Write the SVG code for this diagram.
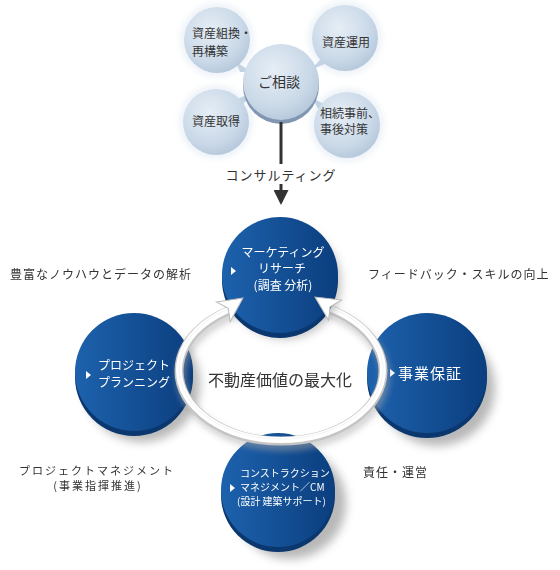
<svg xmlns="http://www.w3.org/2000/svg" width="560" height="570" viewBox="0 0 560 570">
<defs>
<radialGradient id="bub" cx="0.4" cy="0.35" r="0.7">
<stop offset="0" stop-color="#e6eef6"/><stop offset="0.7" stop-color="#c9d8e7"/><stop offset="1" stop-color="#b3c6da"/>
</radialGradient>
<linearGradient id="blue" x1="0" y1="0" x2="1" y2="0">
<stop offset="0" stop-color="#1d62ad"/><stop offset="1" stop-color="#0b3e7e"/>
</linearGradient>
<filter id="sh" x="-30%" y="-30%" width="160%" height="160%"><feGaussianBlur stdDeviation="5"/></filter>
<filter id="glow" x="-30%" y="-30%" width="160%" height="160%"><feGaussianBlur stdDeviation="3"/></filter>
<marker id="ah" viewBox="0 0 10 10" refX="8" refY="5" markerWidth="5" markerHeight="5" orient="auto"><path d="M0,0 L10,5 L0,10 z" fill="#333"/></marker>
<style>
.t{font-family:"Noto Sans CJK JP","Noto Sans",sans-serif;fill:#333}
.b{font-size:12px}
.w{font-family:"Noto Sans CJK JP","Noto Sans",sans-serif;fill:#fff;font-size:12px}
.w10{font-size:10px}
.w15{font-size:15px;letter-spacing:1px}
.side{font-size:12px;letter-spacing:1px}
.side2{font-size:11px;letter-spacing:2px}
.tri{fill:#fff}
</style>
</defs>
<rect width="560" height="570" fill="#fff"/>

<g id="consult">
<circle cx="217" cy="40" r="37" fill="#eef3f8" filter="url(#glow)"/>
<circle cx="345" cy="38" r="37" fill="#eef3f8" filter="url(#glow)"/>
<circle cx="216" cy="122" r="37" fill="#eef3f8" filter="url(#glow)"/>
<circle cx="347" cy="125" r="37" fill="#eef3f8" filter="url(#glow)"/>
<g id="n-kumikae">
<polygon points="236,62 252,72 240,72" fill="#c3d3e3"/>
<circle cx="217" cy="40" r="33" fill="url(#bub)"/>
<text class="t b" x="192" y="38">資産組換・</text>
<text class="t b" x="192" y="56">再構築</text>
</g>
<g id="n-unyou">
<polygon points="322,58 310,70 325,64" fill="#c3d3e3"/>
<circle cx="345" cy="38" r="33" fill="url(#bub)"/>
<text class="t b" x="346" y="47" text-anchor="middle">資産運用</text>
</g>
<g id="n-shutoku">
<polygon points="236,100 252,92 242,106" fill="#c3d3e3"/>
<circle cx="216" cy="122" r="33" fill="url(#bub)"/>
<text class="t b" x="216" y="126" text-anchor="middle">資産取得</text>
</g>
<g id="n-souzoku">
<polygon points="324,104 312,98 320,112" fill="#c3d3e3"/>
<circle cx="347" cy="125" r="33" fill="url(#bub)"/>
<text class="t b" x="320" y="118">相続事前、</text>
<text class="t b" x="320" y="134">事後対策</text>
</g>
<g id="n-soudan">
<circle cx="281" cy="86" r="38" fill="#8197b1"/>
<circle cx="281" cy="82" r="38" fill="url(#bub)"/>
<text class="t" x="279" y="87" font-size="14" text-anchor="middle">ご相談</text>
</g>
</g>

<g id="connectors">
<line x1="281" y1="122" x2="281" y2="164" stroke="#333" stroke-width="3"/>
<text class="t" x="281" y="180" font-size="13" letter-spacing="1" text-anchor="middle">コンサルティング</text>
<line x1="281" y1="184" x2="281" y2="202" stroke="#333" stroke-width="3" marker-end="url(#ah)"/>
</g>

<g id="shadows" fill="#9a9a9a" opacity="0.7">
<circle cx="142" cy="384" r="58" filter="url(#sh)"/>
<circle cx="437" cy="388" r="58" filter="url(#sh)"/>
<circle cx="290" cy="503" r="56" filter="url(#sh)"/>
</g>

<g id="n-planning">
<circle cx="134" cy="377" r="59" fill="#0a376e"/>
<circle cx="134" cy="372" r="59" fill="url(#blue)"/>
<polygon class="tri" points="86,371 86,379 91,375"/>
<text class="w" x="98" y="370">プロジェクト</text>
<text class="w" x="98" y="387">プランニング</text>
</g>
<g id="n-hoshou">
<circle cx="427" cy="378" r="60" fill="#0a376e"/>
<circle cx="427" cy="373" r="60" fill="url(#blue)"/>
<polygon class="tri" points="390,369 390,377 395,373"/>
<text class="w w15" x="398" y="379">事業保証</text>
</g>
<g id="n-cm">
<circle cx="278" cy="495" r="57" fill="#0a376e"/>
<circle cx="278" cy="490" r="57" fill="url(#blue)"/>
<polygon class="tri" points="230,484 230,492 235,488"/>
<text class="w w10" x="240" y="477">コンストラクション</text>
<text class="w w10" x="240" y="491">マネジメント／CM</text>
<text class="w w10" x="237" y="505">(設計 建築サポート)</text>
</g>

<g id="ring">
<ellipse cx="283" cy="376" rx="102" ry="70" fill="none" stroke="#aaa" stroke-width="10" opacity="0.5" filter="url(#glow)"/>
<ellipse cx="281" cy="371" rx="102" ry="70" fill="none" stroke="#c4c4c4" stroke-width="9"/>
<ellipse cx="281" cy="370" rx="102" ry="70" fill="none" stroke="#fff" stroke-width="6"/>
<ellipse cx="281" cy="369" rx="102" ry="70" fill="none" stroke="#f4f4f4" stroke-width="1"/>
</g>

<g id="n-marketing">
<circle cx="285" cy="283" r="56" fill="#9a9a9a" opacity="0.6" filter="url(#sh)"/>
<circle cx="280" cy="280" r="58" fill="#0a376e"/>
<circle cx="280" cy="275" r="58" fill="url(#blue)"/>
<polygon class="tri" points="231,267 231,275 236,271"/>
<text class="w" x="283" y="257" text-anchor="middle">マーケティング</text>
<text class="w" x="282" y="273" text-anchor="middle">リサーチ</text>
<text class="w" x="283" y="290" text-anchor="middle">(調査 分析)</text>
</g>

<g id="ring-arrows" fill="#fff" stroke="#bbb" stroke-width="1">
<polygon points="0,0 -24,-12 -18,0 -24,12" transform="translate(243,298) rotate(-35)"/>
<polygon points="0,0 -24,-12 -18,0 -24,12" transform="translate(315,297) rotate(213)"/>
</g>

<g id="center-label">
<text class="t" x="280" y="386" font-size="16" text-anchor="middle">不動産価値の最大化</text>
</g>

<g id="labels">
<text class="t side" x="10" y="279">豊富なノウハウとデータの解析</text>
<text class="t side" x="368" y="279">フィードバック・スキルの向上</text>
<text class="t side2" x="97" y="475" text-anchor="middle">プロジェクトマネジメント</text>
<text class="t side2" x="98" y="490" text-anchor="middle">(事業指揮推進)</text>
<text class="t side" x="363" y="477">責任・運営</text>
</g>
</svg>
